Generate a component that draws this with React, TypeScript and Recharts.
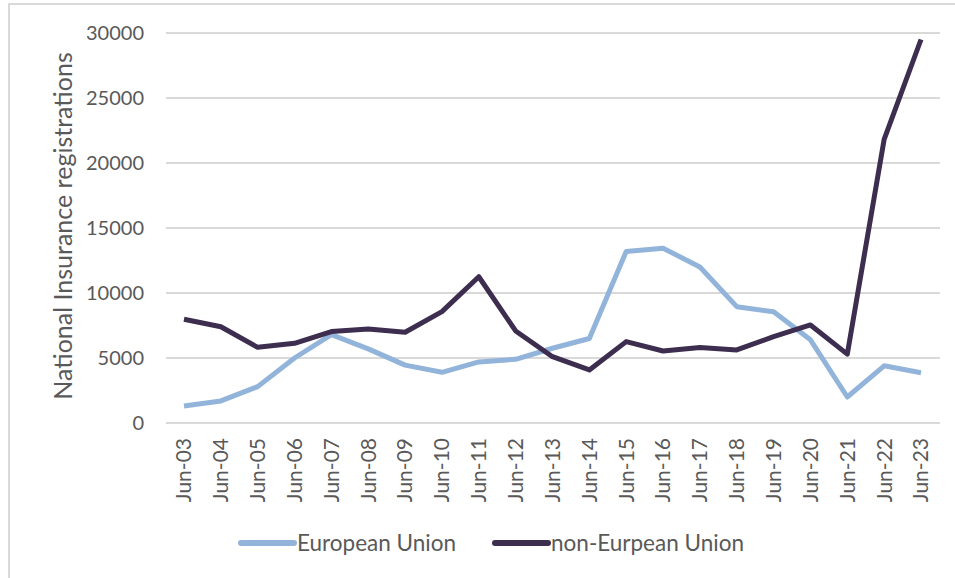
import { LineChart, Line, XAxis, YAxis, CartesianGrid, Legend } from "recharts";

// ── data ────────────────────────────────────────────────────────────────
const periods = [
  "Jun-03", "Jun-04", "Jun-05", "Jun-06", "Jun-07", "Jun-08", "Jun-09",
  "Jun-10", "Jun-11", "Jun-12", "Jun-13", "Jun-14", "Jun-15", "Jun-16",
  "Jun-17", "Jun-18", "Jun-19", "Jun-20", "Jun-21", "Jun-22", "Jun-23",
];
const euValues = [
  1300, 1700, 2800, 5000, 6800, 5700, 4450, 3900, 4700, 4900, 5750,
  6500, 13200, 13450, 12000, 8950, 8550, 6400, 2000, 4400, 3870,
];
const nonEuValues = [
  7980, 7400, 5820, 6130, 7030, 7230, 6980, 8570, 11250, 7080, 5100,
  4080, 6260, 5540, 5800, 5620, 6640, 7540, 5300, 21820, 29500,
];
const yTicks = [0, 5000, 10000, 15000, 20000, 25000, 30000];

const data = periods.map((p, i) => ({ period: p, eu: euValues[i], nonEu: nonEuValues[i] }));

const FONT = "Lato, 'Open Sans', sans-serif";
const TEXT = "#595959";
const EU_COLOR = "#92B4DA";
const NON_EU_COLOR = "#3D2D4F";

function XTick({ x, y, payload }: any) {
  return (
    <g transform={`translate(${x},${y})`}>
      <text
        x={0} y={0} dy="0.35em"
        textAnchor="end" transform="rotate(-90)"
        fill={TEXT} fontSize={21} fontFamily={FONT}
      >
        {payload.value}
      </text>
    </g>
  );
}

function YLabel({ viewBox }: any) {
  const cx = viewBox.x + 62;
  const cy = viewBox.y + viewBox.height / 2 - 2;
  return (
    <text
      x={cx} y={cy} textAnchor="middle" dominantBaseline="central"
      transform={`rotate(-90 ${cx} ${cy})`}
      fill={TEXT} fontSize={25} fontFamily={FONT}
    >
      National Insurance registrations
    </text>
  );
}

function LegendContent({ payload }: any) {
  return (
    <div style={{ display: "flex", alignItems: "center", fontFamily: FONT, fontSize: 22.5, color: TEXT }}>
      {(payload ?? []).map((p: any, i: number) => (
        <div key={p.value} style={{ display: "flex", alignItems: "center", marginRight: i === 0 ? 36 : 0 }}>
          <svg width={59} height={8}>
            <line x1={3} y1={4} x2={56} y2={4} stroke={p.color} strokeWidth={6} strokeLinecap="round" />
          </svg>
          <span>{p.value}</span>
        </div>
      ))}
    </div>
  );
}

export default function App() {
  return (
    <div style={{ position: "absolute", left: 0, top: 0, width: 955, height: 578, background: "#fff" }}>
      <div
        style={{
          position: "absolute", left: 8, top: 3, width: 960, height: 590,
          borderLeft: "2px solid #D9D9D9", borderTop: "2px solid #D9D9D9",
        }}
      />
      <LineChart
        width={955} height={578} data={data}
        margin={{ top: 33, right: 15, bottom: 75, left: 0 }}
      >
        <CartesianGrid vertical={false} stroke="#D9D9D9" strokeWidth={2} />
        <XAxis
          dataKey="period"
          interval={0}
          height={80}
          padding={{ left: 18, right: 19 }}
          axisLine={false} tickLine={false} tickMargin={9}
          tick={<XTick />}
        />
        <YAxis
          domain={[0, 30000]}
          ticks={yTicks}
          width={166}
          axisLine={false} tickLine={false} tickMargin={16}
          tick={{ fill: TEXT, fontSize: 20, fontFamily: FONT }}
          label={<YLabel />}
        />
        <Legend
          layout="horizontal" verticalAlign="middle" align="center"
          wrapperStyle={{ top: 529, left: 238, width: 640, height: 28 }}
          content={<LegendContent />}
        />
        <Line
          dataKey="eu" name="European Union"
          stroke={EU_COLOR} strokeWidth={5} dot={false}
          strokeLinejoin="round" isAnimationActive={false}
        />
        <Line
          dataKey="nonEu" name="non-Eurpean Union"
          stroke={NON_EU_COLOR} strokeWidth={5} dot={false}
          strokeLinejoin="round" isAnimationActive={false}
        />
      </LineChart>
    </div>
  );
}
